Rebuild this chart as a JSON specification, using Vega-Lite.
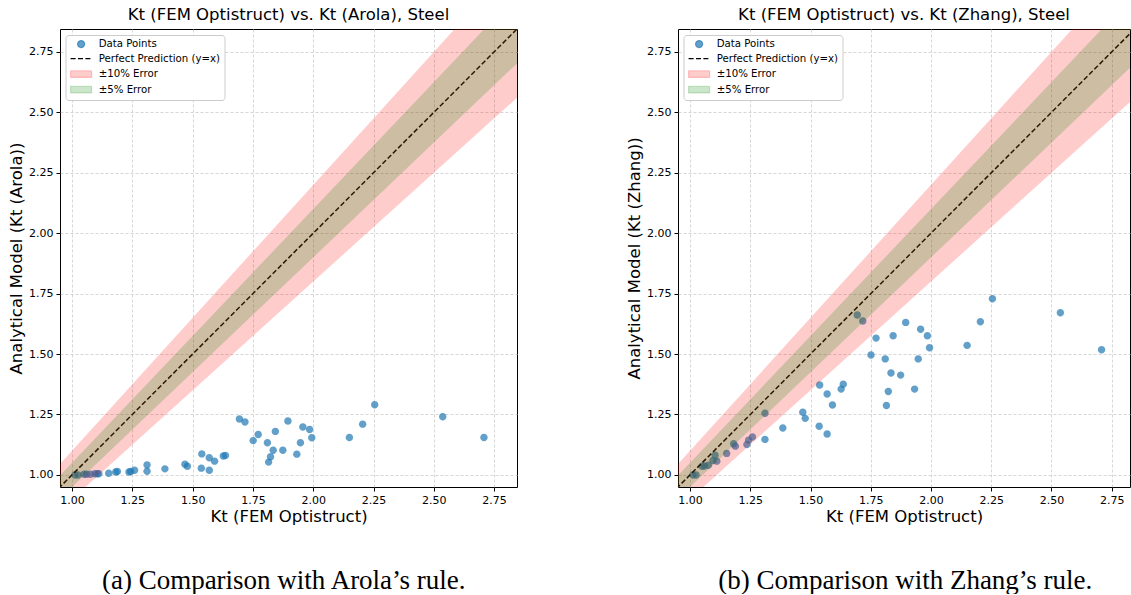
{
  "$schema": "https://vega.github.io/schema/vega-lite/v6.json",
  "padding": {"left": 8, "top": 6, "right": 0, "bottom": 0},
  "datasets": {
    "pts": [
      {"fem": 2.255, "arola": 1.290, "zhang": 1.729},
      {"fem": 2.537, "arola": 1.241, "zhang": 1.671},
      {"fem": 2.708, "arola": 1.155, "zhang": 1.518},
      {"fem": 2.205, "arola": 1.210, "zhang": 1.634},
      {"fem": 2.150, "arola": 1.155, "zhang": 1.536},
      {"fem": 1.895, "arola": 1.223, "zhang": 1.631},
      {"fem": 1.957, "arola": 1.198, "zhang": 1.603},
      {"fem": 1.985, "arola": 1.188, "zhang": 1.576},
      {"fem": 1.994, "arola": 1.154, "zhang": 1.526},
      {"fem": 1.947, "arola": 1.133, "zhang": 1.480},
      {"fem": 1.932, "arola": 1.086, "zhang": 1.355},
      {"fem": 1.843, "arola": 1.180, "zhang": 1.576},
      {"fem": 1.772, "arola": 1.167, "zhang": 1.566},
      {"fem": 1.751, "arola": 1.142, "zhang": 1.496},
      {"fem": 1.810, "arola": 1.133, "zhang": 1.480},
      {"fem": 1.834, "arola": 1.102, "zhang": 1.422},
      {"fem": 1.874, "arola": 1.102, "zhang": 1.413},
      {"fem": 1.823, "arola": 1.075, "zhang": 1.345},
      {"fem": 1.815, "arola": 1.053, "zhang": 1.287},
      {"fem": 1.694, "arola": 1.231, "zhang": 1.662},
      {"fem": 1.717, "arola": 1.219, "zhang": 1.637},
      {"fem": 1.636, "arola": 1.080, "zhang": 1.375},
      {"fem": 1.627, "arola": 1.078, "zhang": 1.355},
      {"fem": 1.538, "arola": 1.087, "zhang": 1.372},
      {"fem": 1.536, "arola": 1.028, "zhang": 1.201},
      {"fem": 1.569, "arola": 1.071, "zhang": 1.335},
      {"fem": 1.569, "arola": 1.019, "zhang": 1.169},
      {"fem": 1.591, "arola": 1.057, "zhang": 1.289},
      {"fem": 1.468, "arola": 1.044, "zhang": 1.259},
      {"fem": 1.478, "arola": 1.036, "zhang": 1.234},
      {"fem": 1.385, "arola": 1.025, "zhang": 1.194},
      {"fem": 1.311, "arola": 1.041, "zhang": 1.255},
      {"fem": 1.311, "arola": 1.015, "zhang": 1.147},
      {"fem": 1.259, "arola": 1.019, "zhang": 1.157},
      {"fem": 1.243, "arola": 1.014, "zhang": 1.144},
      {"fem": 1.236, "arola": 1.012, "zhang": 1.126},
      {"fem": 1.188, "arola": 1.014, "zhang": 1.119},
      {"fem": 1.181, "arola": 1.012, "zhang": 1.129},
      {"fem": 1.152, "arola": 1.007, "zhang": 1.089},
      {"fem": 1.111, "arola": 1.005, "zhang": 1.057},
      {"fem": 1.104, "arola": 1.005, "zhang": 1.082},
      {"fem": 1.095, "arola": 1.005, "zhang": 1.060},
      {"fem": 1.076, "arola": 1.003, "zhang": 1.040},
      {"fem": 1.060, "arola": 1.003, "zhang": 1.037},
      {"fem": 1.050, "arola": 1.003, "zhang": 1.036},
      {"fem": 1.025, "arola": 1.000, "zhang": 1.000},
      {"fem": 1.012, "arola": 1.000, "zhang": 1.000}
    ],
    "diag": [{"x": 0.9, "y": 0.9}, {"x": 3.0, "y": 3.0}],
    "band10": [{"x": 0.9, "lo": 0.81, "hi": 0.99}, {"x": 3.0, "lo": 2.7, "hi": 3.3}],
    "band5": [{"x": 0.9, "lo": 0.855, "hi": 0.945}, {"x": 3.0, "lo": 2.85, "hi": 3.15}]
  },
  "config": {
    "font": "DejaVu Sans",
    "view": {"stroke": "black", "strokeWidth": 1},
    "axis": {
      "domain": false, "grid": true, "gridColor": "#cccccc", "gridDash": [3, 2], "gridWidth": 0.8,
      "tickColor": "black", "tickSize": 4, "labelPadding": 3, "labelFontSize": 11, "labelColor": "black",
      "labelFont": "DejaVu Sans", "titleFont": "DejaVu Sans", "titleFontSize": 16.5, "titleFontWeight": "normal",
      "titleColor": "black"
    },
    "axisX": {"titlePadding": 3},
    "axisY": {"titlePadding": 4},
    "legend": {
      "orient": "none", "legendX": 5.5, "legendY": 6, "padding": 4,
      "strokeColor": "#cccccc", "fillColor": "white", "cornerRadius": 3,
      "labelFontSize": 10.2, "labelColor": "black", "labelFont": "DejaVu Sans", "labelOffset": 12.5, "rowPadding": 3.5,
      "symbolSize": 64, "symbolOffset": 6.5, "symbolStrokeWidth": 1.2, "symbolOpacity": 1
    },
    "title": {"font": "DejaVu Sans", "fontSize": 16.5, "fontWeight": "normal", "color": "black", "offset": 6},
    "concat": {"spacing": 108}
  },
  "resolve": {
    "scale": {"color": "independent", "shape": "independent", "strokeDash": "independent", "x": "independent", "y": "independent"},
    "legend": {"color": "independent", "shape": "independent", "strokeDash": "independent"}
  },
  "hconcat": [
    {
      "title": {"text": "(a) Comparison with Arola’s rule.", "orient": "bottom", "font": "Liberation Serif", "fontSize": 27, "offset": 43, "anchor": "middle", "dx": 21},
      "vconcat": [
        {
          "width": 457, "height": 458,
          "title": {"text": "Kt (FEM Optistruct) vs. Kt (Arola), Steel"},
          "layer": [
            {
              "data": {"name": "pts"},
              "mark": {"type": "point", "filled": true, "size": 72, "opacity": 1},
              "encoding": {
                "x": {"field": "fem", "type": "quantitative", "title": "Kt (FEM Optistruct)", "scale": {"domain": [0.95, 2.845], "nice": false, "zero": false}, "axis": {"values": [1, 1.25, 1.5, 1.75, 2, 2.25, 2.5, 2.75], "format": ".2f"}},
                "y": {"field": "arola", "type": "quantitative", "title": "Analytical Model (Kt (Arola))", "scale": {"domain": [0.95, 2.845], "nice": false, "zero": false}, "axis": {"values": [1, 1.25, 1.5, 1.75, 2, 2.25, 2.5, 2.75], "format": ".2f"}},
                "color": {"datum": "Data Points", "legend": {"title": null}, "scale": {"domain": ["Data Points", "Perfect Prediction (y=x)", "±10% Error", "±5% Error"], "range": ["rgba(31,119,180,0.7)", "black", "rgba(255,0,0,0.2)", "rgba(0,128,0,0.2)"]}},
                "shape": {"datum": "Data Points", "legend": {"title": null}, "scale": {"domain": ["Data Points", "Perfect Prediction (y=x)", "±10% Error", "±5% Error"], "range": ["M-0.875,0A0.875,0.875 0 1,0 0.875,0A0.875,0.875 0 1,0 -0.875,0Z", "M-2.625,0H2.625", "M-2.625,-0.84H2.625V0.84H-2.625Z", "M-2.625,-0.84H2.625V0.84H-2.625Z"]}},
                "strokeDash": {"datum": "Data Points", "legend": {"title": null}, "scale": {"domain": ["Data Points", "Perfect Prediction (y=x)", "±10% Error", "±5% Error"], "range": [[1, 0], [5, 2.4], [1, 0], [1, 0]]}}
              }
            },
            {
              "data": {"name": "diag"},
              "mark": {"type": "line", "strokeWidth": 1.5, "clip": true, "opacity": 1},
              "encoding": {
                "x": {"field": "x", "type": "quantitative", "title": "Kt (FEM Optistruct)"},
                "y": {"field": "y", "type": "quantitative", "title": "Analytical Model (Kt (Arola))"},
                "color": {"datum": "Perfect Prediction (y=x)"},
                "strokeDash": {"datum": "Perfect Prediction (y=x)"}
              }
            },
            {
              "data": {"name": "band10"},
              "mark": {"type": "area", "clip": true, "opacity": 1},
              "encoding": {
                "x": {"field": "x", "type": "quantitative", "title": "Kt (FEM Optistruct)"},
                "y": {"field": "lo", "type": "quantitative", "title": "Analytical Model (Kt (Arola))"},
                "y2": {"field": "hi"},
                "color": {"datum": "±10% Error"}
              }
            },
            {
              "data": {"name": "band5"},
              "mark": {"type": "area", "clip": true, "opacity": 1},
              "encoding": {
                "x": {"field": "x", "type": "quantitative", "title": "Kt (FEM Optistruct)"},
                "y": {"field": "lo", "type": "quantitative", "title": "Analytical Model (Kt (Arola))"},
                "y2": {"field": "hi"},
                "color": {"datum": "±5% Error"}
              }
            }
          ]
        }
      ]
    },
    {
      "title": {"text": "(b) Comparison with Zhang’s rule.", "orient": "bottom", "font": "Liberation Serif", "fontSize": 27, "offset": 43, "anchor": "middle", "dx": 27},
      "vconcat": [
        {
          "width": 452, "height": 458,
          "title": {"text": "Kt (FEM Optistruct) vs. Kt (Zhang), Steel"},
          "layer": [
            {
              "data": {"name": "pts"},
              "mark": {"type": "point", "filled": true, "size": 72, "opacity": 1},
              "encoding": {
                "x": {"field": "fem", "type": "quantitative", "title": "Kt (FEM Optistruct)", "scale": {"domain": [0.95, 2.826], "nice": false, "zero": false}, "axis": {"values": [1, 1.25, 1.5, 1.75, 2, 2.25, 2.5, 2.75], "format": ".2f"}},
                "y": {"field": "zhang", "type": "quantitative", "title": "Analytical Model (Kt (Zhang))", "scale": {"domain": [0.95, 2.845], "nice": false, "zero": false}, "axis": {"values": [1, 1.25, 1.5, 1.75, 2, 2.25, 2.5, 2.75], "format": ".2f"}},
                "color": {"datum": "Data Points", "legend": {"title": null}, "scale": {"domain": ["Data Points", "Perfect Prediction (y=x)", "±10% Error", "±5% Error"], "range": ["rgba(31,119,180,0.7)", "black", "rgba(255,0,0,0.2)", "rgba(0,128,0,0.2)"]}},
                "shape": {"datum": "Data Points", "legend": {"title": null}, "scale": {"domain": ["Data Points", "Perfect Prediction (y=x)", "±10% Error", "±5% Error"], "range": ["M-0.875,0A0.875,0.875 0 1,0 0.875,0A0.875,0.875 0 1,0 -0.875,0Z", "M-2.625,0H2.625", "M-2.625,-0.84H2.625V0.84H-2.625Z", "M-2.625,-0.84H2.625V0.84H-2.625Z"]}},
                "strokeDash": {"datum": "Data Points", "legend": {"title": null}, "scale": {"domain": ["Data Points", "Perfect Prediction (y=x)", "±10% Error", "±5% Error"], "range": [[1, 0], [5, 2.4], [1, 0], [1, 0]]}}
              }
            },
            {
              "data": {"name": "diag"},
              "mark": {"type": "line", "strokeWidth": 1.5, "clip": true, "opacity": 1},
              "encoding": {
                "x": {"field": "x", "type": "quantitative", "title": "Kt (FEM Optistruct)"},
                "y": {"field": "y", "type": "quantitative", "title": "Analytical Model (Kt (Zhang))"},
                "color": {"datum": "Perfect Prediction (y=x)"},
                "strokeDash": {"datum": "Perfect Prediction (y=x)"}
              }
            },
            {
              "data": {"name": "band10"},
              "mark": {"type": "area", "clip": true, "opacity": 1},
              "encoding": {
                "x": {"field": "x", "type": "quantitative", "title": "Kt (FEM Optistruct)"},
                "y": {"field": "lo", "type": "quantitative", "title": "Analytical Model (Kt (Zhang))"},
                "y2": {"field": "hi"},
                "color": {"datum": "±10% Error"}
              }
            },
            {
              "data": {"name": "band5"},
              "mark": {"type": "area", "clip": true, "opacity": 1},
              "encoding": {
                "x": {"field": "x", "type": "quantitative", "title": "Kt (FEM Optistruct)"},
                "y": {"field": "lo", "type": "quantitative", "title": "Analytical Model (Kt (Zhang))"},
                "y2": {"field": "hi"},
                "color": {"datum": "±5% Error"}
              }
            }
          ]
        }
      ]
    }
  ]
}
